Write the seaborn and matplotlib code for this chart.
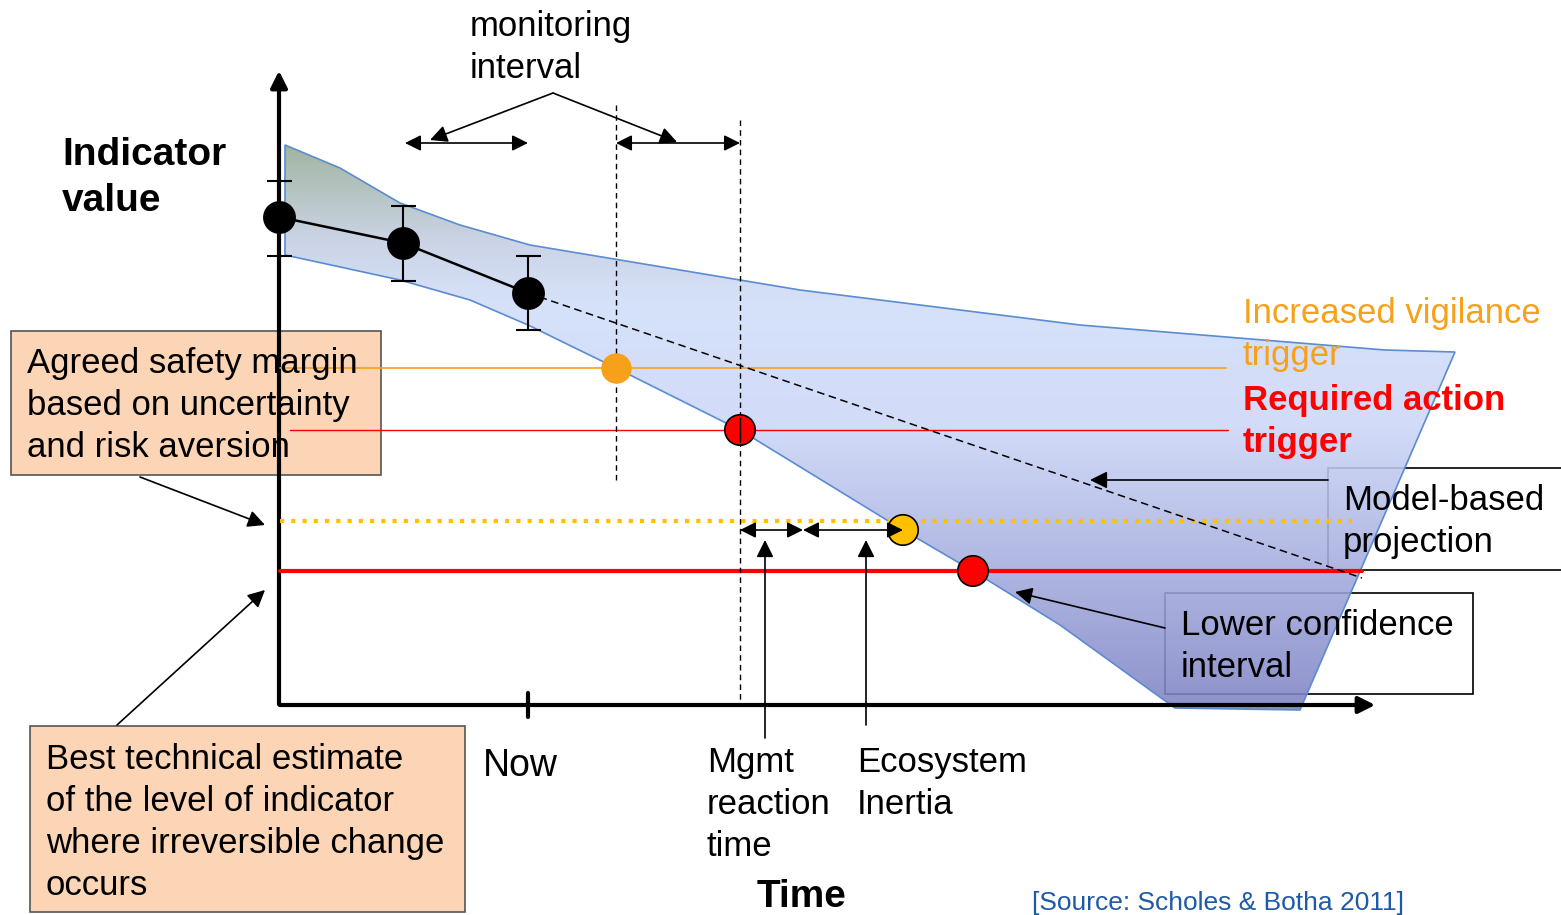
import numpy as np
import pandas as pd
import matplotlib
matplotlib.use("Agg")
import matplotlib.pyplot as plt
import seaborn as sns
from matplotlib.patches import Polygon, Rectangle
from matplotlib.colors import LinearSegmentedColormap

sns.set_style("white")
plt.rcParams["font.family"] = ["Liberation Sans", "DejaVu Sans"]

# --- diagram values (pixel space of the original slide) ---
obs_x = [279, 403, 528]            # past monitoring points
obs_y = [217, 243, 293]
obs_hi = [181, 206, 256]           # error bar upper end
obs_lo = [256, 281, 330]           # error bar lower end

proj_x = [528, 1362]               # model-based projection
proj_y = [293, 578]

band_upper_x = [285, 340, 400, 460, 530, 800, 1080, 1385, 1455]
band_upper_y = [145, 168, 203, 225, 245, 290, 325, 350, 352]
band_lower_x = [285, 400, 470, 528, 616, 740, 903, 973, 1060, 1175]
band_lower_y = [255, 280, 300, 325, 368, 430, 530, 571, 625, 708]
band_right = [(1300, 710), (1175, 708)]

trig_x = [616, 740, 903, 973]
trig_y = [368, 430, 530, 571]
trig_kind = ["vigilance", "action", "vigilance_lim", "action_lim"]

vigilance_y = 368
action_y = 430
vigilance_lim_y = 521
action_lim_y = 571

ORANGE = "#F7A11A"
RED = "#FF0000"
YELLOW = "#FFC000"
PEACH = "#FBD5B5"

fig = plt.figure(figsize=(15.61, 9.15), dpi=100)
ax = fig.add_axes([0, 0, 1, 1])
ax.set_xlim(0, 1561)
ax.set_ylim(915, 0)
ax.axis("off")

# boxes
ax.add_patch(Rectangle((11, 331), 370, 144, fc=PEACH, ec="#555555", lw=1.2, zorder=1))
ax.add_patch(Rectangle((30, 726), 435, 186, fc=PEACH, ec="#555555", lw=1.2, zorder=1))
ax.add_patch(Rectangle((1328, 468), 260, 102, fc="white", ec="black", lw=1.2, zorder=1))
ax.add_patch(Rectangle((1165, 593), 308, 101, fc="white", ec="black", lw=1.2, zorder=1))

# confidence band with vertical gradient
verts = list(zip(band_upper_x, band_upper_y)) + band_right + list(zip(band_lower_x, band_lower_y))[::-1]
band = Polygon(verts, closed=True, fc="none", ec="#5B8BD0", lw=1.2, zorder=2.5)
ax.add_patch(band)
cmap = LinearSegmentedColormap.from_list("band", [
    (0.0, (0.58, 0.67, 0.58)),
    (0.17, (0.77, 0.81, 0.89)),
    (0.28, (0.82, 0.87, 0.98)),
    (0.50, (0.80, 0.84, 0.97)),
    (1.0, (0.49, 0.51, 0.77)),
])
grad = np.linspace(0, 1, 300).reshape(-1, 1)
img = ax.imshow(grad, cmap=cmap, extent=[280, 1460, 712, 143], aspect="auto",
                alpha=0.88, zorder=2)
img.set_clip_path(band)

# axes of the diagram
ax.annotate("", xy=(279, 68), xytext=(279, 707),
            arrowprops=dict(arrowstyle="-|>", color="black", lw=3, mutation_scale=25), zorder=3)
ax.annotate("", xy=(1378, 705), xytext=(277, 705),
            arrowprops=dict(arrowstyle="-|>", color="black", lw=3, mutation_scale=25), zorder=3)
ax.plot([528, 528], [693, 717], color="black", lw=3, zorder=3)

# threshold lines
ax.plot([280, 1226], [vigilance_y] * 2, color=ORANGE, lw=1.2, zorder=3)
ax.plot([290, 1228], [action_y] * 2, color=RED, lw=1.0, zorder=3)
ax.plot([280, 1352], [vigilance_lim_y] * 2, color=YELLOW, lw=3, ls=(0, (1, 1.7)), zorder=3)
ax.plot([280, 1362], [action_lim_y] * 2, color=RED, lw=3, zorder=3)

# monitoring verticals
ax.plot([616, 616], [105, 480], color="black", lw=1, ls=(0, (4, 3)), zorder=3)
ax.plot([740, 740], [120, 705], color="black", lw=1, ls=(0, (4, 3)), zorder=3)

# projection + observations
ax.plot(proj_x, proj_y, color="black", lw=1.1, ls=(0, (5, 3)), zorder=3)
obs = pd.DataFrame({"x": obs_x, "y": obs_y})
sns.lineplot(data=obs, x="x", y="y", color="black", lw=1.8, ax=ax, zorder=3)
ax.errorbar(obs_x, obs_y,
            yerr=[np.array(obs_y) - np.array(obs_hi), np.array(obs_lo) - np.array(obs_y)],
            fmt="none", ecolor="black", elinewidth=1.5, capsize=9, capthick=1.5, zorder=3)
sns.scatterplot(data=obs, x="x", y="y", color="black", s=560, edgecolor="black",
                linewidth=0, ax=ax, zorder=4, legend=False)

trig = pd.DataFrame({"x": trig_x, "y": trig_y, "kind": trig_kind})
pal = {"vigilance": ORANGE, "action": RED, "vigilance_lim": YELLOW, "action_lim": RED}
sns.scatterplot(data=trig[trig.kind == "vigilance"], x="x", y="y", hue="kind", palette=pal,
                s=480, linewidth=0, ax=ax, zorder=4, legend=False)
sns.scatterplot(data=trig[trig.kind != "vigilance"], x="x", y="y", hue="kind", palette=pal,
                s=480, edgecolor="black", linewidth=1.2, ax=ax, zorder=4, legend=False)
ax.plot([740, 740], [418, 442], color="black", lw=1, zorder=4.5)
ax.set_xlabel("")
ax.set_ylabel("")


def arrow(x0, y0, x1, y1, style="-|>", ms=26):
    ax.annotate("", xy=(x1, y1), xytext=(x0, y0),
                arrowprops=dict(arrowstyle=style, color="black", lw=1.2,
                                mutation_scale=ms, shrinkA=0, shrinkB=0), zorder=5)


# monitoring interval arrows
arrow(405, 143, 528, 143, "<|-|>", 24)
arrow(616, 143, 740, 143, "<|-|>", 24)
arrow(553, 93, 430, 140)
arrow(553, 93, 677, 142)
# reaction / inertia arrows
arrow(740, 530, 803, 530, "<|-|>", 24)
arrow(803, 530, 903, 530, "<|-|>", 24)
arrow(765, 738, 765, 540)
arrow(866, 725, 866, 540)
# box pointers
arrow(140, 477, 265, 525)
arrow(117, 725, 265, 590)
arrow(1328, 480, 1090, 480)
arrow(1165, 628, 1015, 592)


def lines(x, baselines, texts, size=25, color="black", weight="normal"):
    for b, t in zip(baselines, texts):
        ax.text(x, b, t, fontsize=size, color=color, fontweight=weight,
                ha="left", va="baseline", zorder=6)


lines(470, [36, 78], ["monitoring", "interval"])
lines(62, [165, 211], ["Indicator", "value"], size=28, weight="bold")
lines(27, [373, 415, 457], ["Agreed safety margin", "based on uncertainty", "and risk aversion"])
lines(46, [769, 811, 853, 895], ["Best technical estimate", "of the level of indicator",
                                 "where irreversible change", "occurs"])
lines(483, [776], ["Now"], size=27)
lines(707, [772, 814, 856], ["Mgmt", "reaction", "time"])
lines(857, [772, 814], ["Ecosystem", "Inertia"])
lines(757, [907], ["Time"], size=28, weight="bold")
lines(1032, [910], ["[Source: Scholes & Botha 2011]"], size=19, color="#1F5AA6")
lines(1243, [323, 365], ["Increased vigilance", "trigger"], color=ORANGE)
lines(1243, [410, 452], ["Required action", "trigger"], color=RED, weight="bold")
lines(1343, [510, 552], ["Model-based", "projection"])
lines(1181, [635, 677], ["Lower confidence", "interval"])

fig.savefig("out.png", dpi=100)
